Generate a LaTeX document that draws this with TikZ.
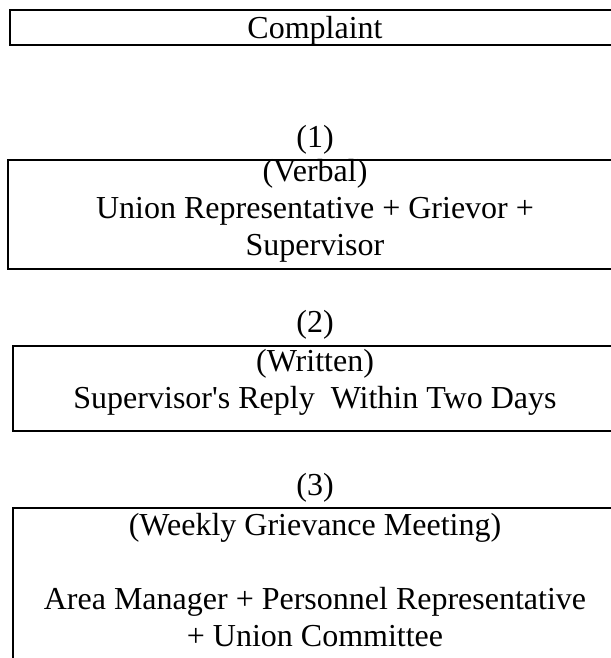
\documentclass[tikz,border=0pt]{standalone}
\usepackage{fontspec}
\setmainfont{Liberation Serif}
\tikzset{
	stagebox/.style={draw, line width=0.75pt, rectangle, anchor=north west, inner sep=0pt},
	stagetext/.style={align=center, anchor=base, inner sep=0pt, font=\fontsize{12}{13.8}\selectfont},
}
\begin{document}
\begin{tikzpicture}[x=0.375pt,y=-0.375pt]
	\useasboundingbox (0,0) rectangle (611,658);
	\clip (0,0) rectangle (611,658);
	% boxes
	\node[stagebox, minimum width=229.5pt, minimum height=13.125pt] (complaintbox) at (9,9) {};
	\node[stagebox, minimum width=231pt, minimum height=40.875pt] (verbalbox) at (7,159) {};
	\node[stagebox, minimum width=227.25pt, minimum height=31.875pt] (writtenbox) at (12,345) {};
	\node[stagebox, minimum width=227.25pt, minimum height=75pt] (weeklybox) at (12,507) {};
	% texts (base = last line)
	\node[stagetext] (complaint) at (315,38) {Complaint};
	\node[stagetext] (step1) at (315,147) {(1)};
	\node[stagetext] (verbal) at (315,255) {(Verbal)\\Union Representative + Grievor +\\Supervisor};
	\node[stagetext] (step2) at (315,332) {(2)};
	\node[stagetext] (written) at (315,408) {(Written)\\Supervisor\textquotesingle s Reply\ \ Within Two Days};
	\node[stagetext] (step3) at (315,495) {(3)};
	\node[stagetext] (weekly) at (315,646) {(Weekly Grievance Meeting)\\[13.8pt]Area Manager + Personnel Representative\\+ Union Committee};
\end{tikzpicture}
\end{document}
